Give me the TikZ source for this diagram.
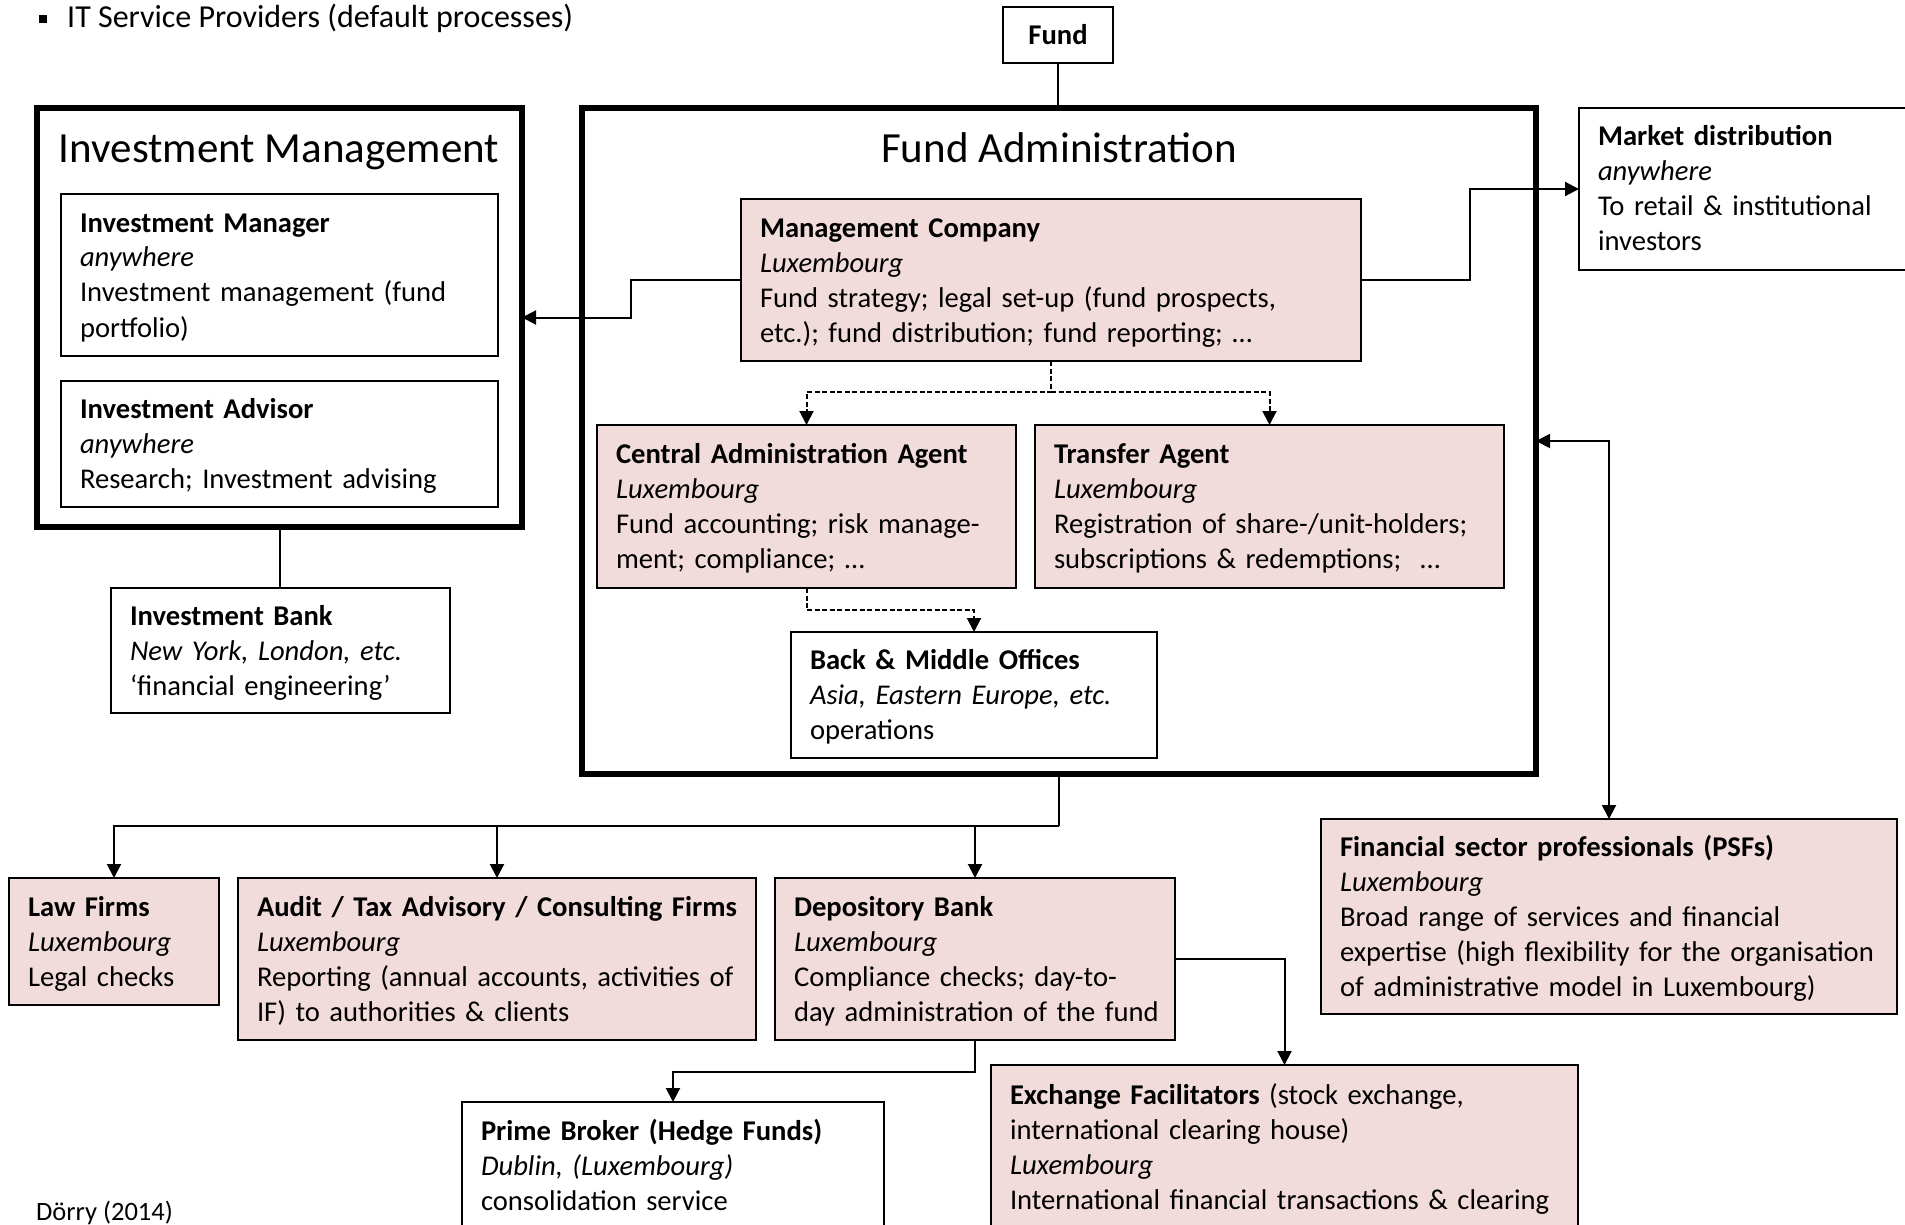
\documentclass[tikz,border=0pt]{standalone}
\usepackage{fontspec}
\setmainfont{Carlito}
\usetikzlibrary{arrows.meta}
\definecolor{pinkc}{HTML}{F2DCDB}
\newcommand\bodyf{\fontsize{28.6}{35}\selectfont}
\newcommand\titlef{\fontsize{43}{50}\selectfont}
\begin{document}
\begin{tikzpicture}[x=1pt,y=-1pt,
  bx/.style={draw, line width=2pt, outer sep=0pt, inner xsep=19pt, inner ysep=0pt, align=left, font=\bodyf, anchor=north west,
    execute at begin node={\rule{0pt}{28pt}}, execute at end node={\rule[-9pt]{0pt}{9pt}}},
  pbx/.style={bx, fill=pinkc},
  wbx/.style={bx, fill=white},
  frame/.style={draw, line width=5.5pt, outer sep=0pt, inner sep=0pt, anchor=north west},
  con/.style={line width=2pt},
  tip/.tip={Triangle[length=14pt,width=14pt]},
  arr/.style={con, -tip},
  darr/.style={con, tip-tip},
  dsh/.style={arr, dash pattern=on 5pt off 2.5pt},
]
\useasboundingbox (0,0) rectangle (1905,1225);

% header and footer text
\node[anchor=base west, inner sep=0pt, font=\fontsize{32}{38}\selectfont] (itsp) at (39,28)
  {\rule[5pt]{8pt}{8pt}\hspace{20pt}IT Service Providers (default processes)};
\node[anchor=west, inner sep=0pt, font=\fontsize{26.5}{32}\selectfont] (src) at (36,1213) {Dörry (2014)};

% frames
\node[frame, minimum width=485pt, minimum height=419pt] (im) at (37,108) {};
\node[frame, minimum width=954pt, minimum height=666pt] (fa) at (582,108) {};
\node[anchor=base, inner sep=0pt, font=\titlef] (imt) at (279,162.5) {Investment Management};
\node[anchor=base, inner sep=0pt, font=\titlef] (fat) at (1059,162.5) {Fund Administration};

% fund
\node[draw, line width=2.8pt, outer sep=0pt, anchor=north west, minimum width=110pt, minimum height=56pt, font=\bodyf\bfseries] (fund) at (1003,7) {Fund};

% investment management
\node[wbx, text width=399pt, minimum height=162pt] (imgr) at (61,194)
  {\textbf{Investment Manager}\\\textit{anywhere}\\\mbox{Investment management (fund}\\portfolio)};
\node[wbx, text width=399pt, minimum height=126pt] (iadv) at (61,381)
  {\textbf{Investment Advisor}\\\textit{anywhere}\\\mbox{Research; Investment advising}};
\node[wbx, text width=301pt, minimum height=125pt] (ib) at (111,588)
  {\textbf{Investment Bank}\\\textit{New York, London, etc.}\\‘financial engineering’};

% fund administration
\node[pbx, text width=582pt, minimum height=162pt] (mc) at (741,199)
  {\textbf{Management Company}\\\textit{Luxembourg}\\\mbox{Fund strategy; legal set-up (fund prospects,}\\\mbox{etc.); fund distribution; fund reporting; …}};
\node[pbx, text width=381pt, minimum height=163pt] (caa) at (597,425)
  {\textbf{\mbox{Central Administration Agent}}\\\textit{Luxembourg}\\\mbox{Fund accounting; risk manage-}\\ment; compliance; …};
\node[pbx, text width=431pt, minimum height=163pt] (ta) at (1035,425)
  {\textbf{Transfer Agent}\\\textit{Luxembourg}\\\mbox{Registration of share-/unit-holders;}\\\mbox{subscriptions \& redemptions;~ …}};
\node[wbx, text width=328pt, minimum height=126pt] (bmo) at (791,632)
  {\textbf{Back \& Middle Offices}\\\textit{\mbox{Asia, Eastern Europe, etc.}}\\operations};

% right side
\node[wbx, text width=293pt, minimum height=162pt] (md) at (1579,108)
  {\textbf{Market distribution}\\\textit{anywhere}\\\mbox{To retail \& institutional}\\investors};
\node[pbx, text width=538pt, minimum height=195pt] (psf) at (1321,819)
  {\textbf{\mbox{Financial sector professionals (PSFs)}}\\\textit{Luxembourg}\\\mbox{Broad range of services and financial}\\\mbox{expertise (high flexibility for the organisation}\\\mbox{of administrative model in Luxembourg)}};

% service providers
\node[pbx, text width=172pt, minimum height=127pt] (law) at (9,878)
  {\textbf{Law Firms}\\\textit{Luxembourg}\\Legal checks};
\node[pbx, text width=480pt, minimum height=162pt] (audit) at (238,878)
  {\textbf{\mbox{Audit / Tax Advisory / Consulting Firms}}\\\textit{Luxembourg}\\\mbox{Reporting (annual accounts, activities of}\\\mbox{IF) to authorities \& clients}};
\node[pbx, text width=362pt, minimum height=162pt] (dep) at (775,878)
  {\textbf{Depository Bank}\\\textit{Luxembourg}\\\mbox{Compliance checks; day-to-}\\\mbox{day administration of the fund}};
\node[wbx, text width=384pt, minimum height=127pt] (pb) at (462,1102)
  {\textbf{\mbox{Prime Broker (Hedge Funds)}}\\\textit{Dublin, (Luxembourg)}\\consolidation service};
\node[pbx, text width=549pt, minimum height=164pt] (exch) at (991,1065)
  {\mbox{\textbf{Exchange Facilitators} (stock exchange,}\\\mbox{international clearing house)}\\\textit{Luxembourg}\\\mbox{International financial transactions \& clearing}};

% connectors
\draw[con] (fund.south) -- (fund.south |- fa.north);
\draw[con] (im.south) -- (im.south |- ib.north);
\draw[arr] (mc.west) -- ++(-110,0) |- (im.east);
\draw[arr] (mc.east) -- ++(109,0) |- (md.west);
\draw[dsh] (mc.south) -- ++(0,31) coordinate (dj) -| (caa.north);
\draw[dsh] (dj) -| (ta.north);
\draw[dsh] (caa.south) -- ++(0,22) -| (bmo.north);
\draw[con] (fa.south) -- ++(0,52) coordinate (hub);
\draw[arr] (hub) -| (law.north);
\draw[arr] (hub) -| (audit.north);
\draw[arr] (hub) -| (dep.north);
\draw[darr] (psf.north) |- (fa.east);
\draw[arr] (dep.east) -| (exch.north);
\draw[arr] (dep.south) -- ++(0,32) -| (pb.north);
\end{tikzpicture}
\end{document}
